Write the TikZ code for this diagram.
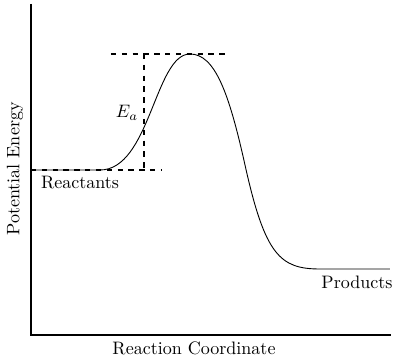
\documentclass[tikz,border=0pt]{standalone}
\usepackage{tikz}
\usetikzlibrary{positioning}

\begin{document}
\begin{tikzpicture}[
    x=0.0195cm, y=-0.0195cm,
    axis/.style={draw=black, line width=1pt},
    energy/.style={draw=black, line width=0.5pt},
    level/.style={draw=black, thick, dashed},
    lbl/.style={inner sep=1pt, font=\normalsize}
]
    \useasboundingbox (0,0) rectangle (400,359);

    % axes
    \coordinate (ytop) at (31,4);
    \coordinate (orig) at (31,335);
    \coordinate (xend) at (391,335);
    \draw[axis] (ytop) -- (orig) -- (xend);

    % energy levels
    \coordinate (reactL) at (31,170);
    \coordinate (reactR) at (162,170);
    \coordinate (peakL) at (111,54);
    \coordinate (peakR) at (226,54);
    \coordinate (eaTop) at (144,54);
    \coordinate (eaBot) at (144,170);
    \draw[level] (reactL) -- (reactR);
    \draw[level] (peakL) -- (peakR);
    \draw[level] (eaTop) -- (eaBot);

    % reaction profile
    \coordinate (rise) at (100,170);
    \coordinate (peak) at (190,54);
    \coordinate (infl) at (245,165);
    \coordinate (prodL) at (320,269);
    \coordinate (prodR) at (390,269);
    \draw[energy] (reactL) -- (rise)
        .. controls (150,170) and (155,54) .. (peak)
        .. controls (215,54) and (229,93) .. (infl)
        .. controls (265,255) and (280,269) .. (prodL) -- (prodR);

    % labels
    \node[lbl] (ea) at (127,113) {$E_a$};
    \node[lbl] (react) at (80,183) {Reactants};
    \node[lbl] (prod) at (357,282) {Products};
    \node[lbl, rotate=90] (ylbl) at (15,169) {Potential Energy};
    \node[lbl] (xlbl) at (194,348) {Reaction Coordinate};
\end{tikzpicture}
\end{document}
